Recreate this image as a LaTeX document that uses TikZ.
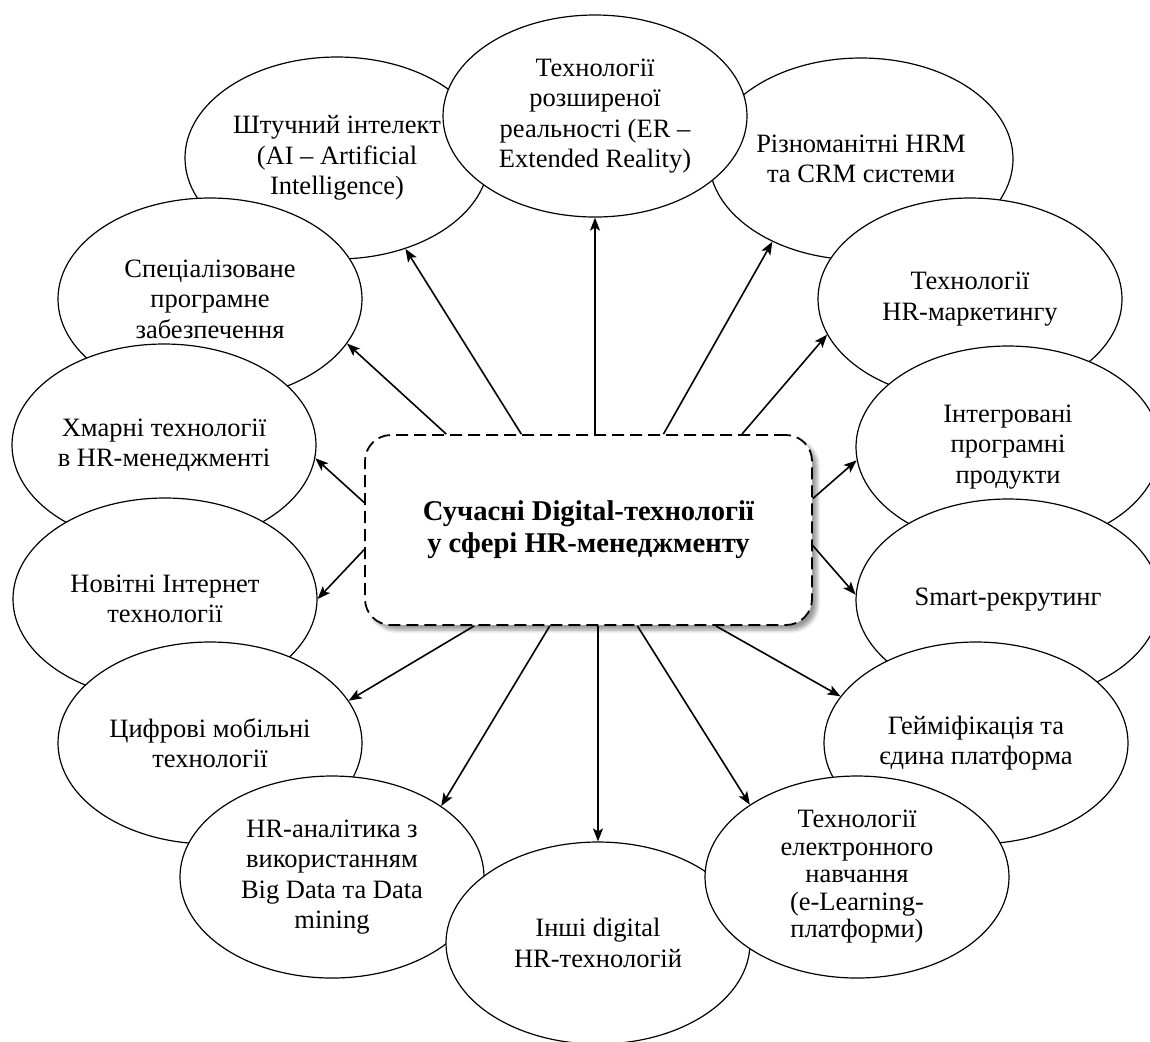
\documentclass[tikz,border=0pt]{standalone}
\usepackage{fontspec}
\setmainfont{Liberation Serif}
\usetikzlibrary{shapes.geometric,arrows.meta,shadows.blur}

\begin{document}
\begin{tikzpicture}[x=0.5pt,y=-0.5pt,
    tech/.style={ellipse, draw, fill=white, line width=0.6pt,
      minimum width=152pt, minimum height=101pt, inner sep=0pt,
      align=center, font=\fontsize{13.25}{15.2}\selectfont},
    hub/.style={draw, fill=white, line width=0.9pt, dash pattern=on 6pt off 3pt,
      rounded corners=13pt, minimum width=223.5pt, minimum height=95pt,
      align=center, font=\bfseries\fontsize{14.3}{16}\selectfont,
      blur shadow={shadow xshift=2.5pt, shadow yshift=-2.5pt, shadow blur steps=6}},
    arr/.style={-{Stealth[length=6.5pt,width=5pt,inset=1.5pt]}, line width=0.8pt}]
  \useasboundingbox (0,0) rectangle (1150,1041);
  \node[tech] (ai) at (337,158) {Штучний інтелект\\(AI – Artificial\\Intelligence)};
  \node[tech] (hrm) at (861,159) {Різноманітні HRM\\та CRM системи};
  \node[tech] (soft) at (210,299) {Спеціалізоване\\програмне\\забезпечення};
  \node[tech] (mkt) at (970,299) {Технології\\HR-маркетингу};
  \node[tech] (cloud) at (164,445) {Хмарні технології\\в HR-менеджменті};
  \node[tech] (integr) at (1008,447) {Інтегровані\\програмні\\продукти};
  \node[tech] (inet) at (165,599) {Новітні Інтернет\\технології};
  \node[tech] (smart) at (1008,600) {Smart-рекрутинг};
  \node[tech] (mobile) at (210,743) {Цифрові мобільні\\технології};
  \node[tech] (game) at (976,743) {Гейміфікація та\\єдина платформа};
  \node[tech] (analyt) at (332,877) {HR-аналітика з\\використанням\\Big Data та Data\\mining};
  \node[tech] (other) at (598,943) {Інші digital\\HR-технологій};
  \node[tech] (er) at (595,116) {Технології\\розширеної\\реальності (ER –\\Extended Reality)};
  \node[tech, font=\fontsize{13.25}{13.75}\selectfont] (elearn) at (857,877) {Технології\\електронного\\навчання\\(e-Learning-\\платформи)};

  \node[hub] (hub) at (588.5,530) {Сучасні Digital-технології\\у сфері HR-менеджменту};

  \draw[arr] (er.south |- hub.north) -- (er.south);
  \draw[arr] (hub.125.8) -- (ai.-53);
  \draw[arr] (hub.146.9) -- (soft.-18.4);
  \draw[arr] (hub.173.6) -- (cloud.-5.6);
  \draw[arr] (hub.185.6) -- (inet.east);
  \draw[arr] (hub.220.2) -- (mobile.17.6);
  \draw[arr] (hub.248.5) -- (analyt.33.2);
  \draw[arr] (other.north |- hub.south) -- (other.north);
  \draw[arr] (hub.297.5) -- (elearn.146.6);
  \draw[arr] (hub.323.3) -- (game.161.2);
  \draw[arr] (hub.-4.6) -- (smart.178);
  \draw[arr] (hub.8.1) -- (integr.185);
  \draw[arr] (hub.32.8) -- (mkt.194.6);
  \draw[arr] (hub.52.6) -- (hrm.223.1);
\end{tikzpicture}
\end{document}
